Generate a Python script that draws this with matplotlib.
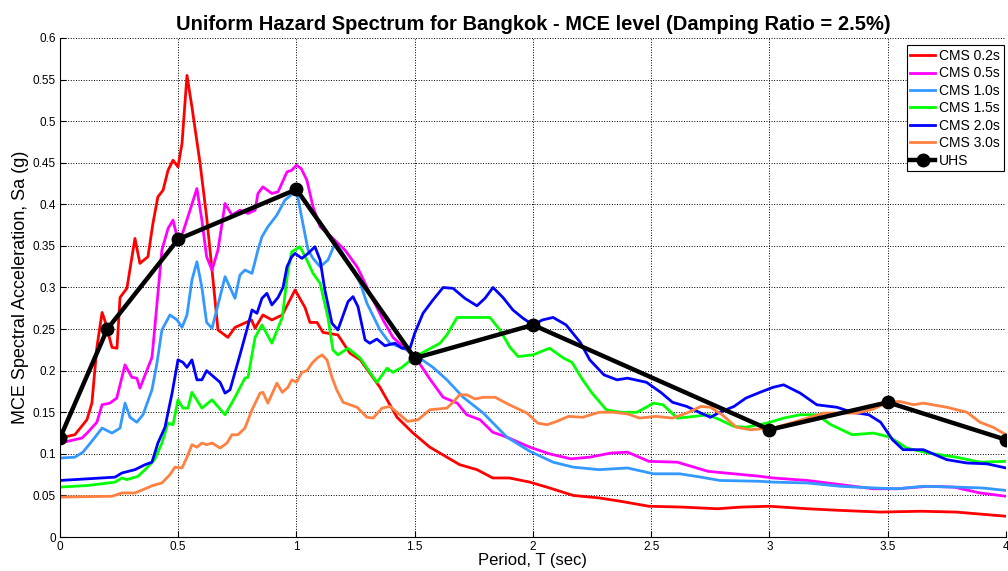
import matplotlib.pyplot as plt

plt.rcParams['font.family'] = ['Liberation Sans', 'DejaVu Sans']

# CMS 0.2s
T_cms02 = [0, 0.063, 0.114, 0.135, 0.156, 0.178, 0.19, 0.22, 0.241, 0.254, 0.283, 0.309, 0.317, 0.338, 0.372,
           0.393, 0.414, 0.436, 0.457, 0.478, 0.499, 0.516, 0.537, 0.558, 0.592, 0.62, 0.643, 0.668, 0.71, 0.74,
           0.81, 0.825, 0.858, 0.896, 0.94, 0.994, 1.036, 1.057, 1.087, 1.112, 1.175, 1.226, 1.27, 1.353, 1.425,
           1.493, 1.564, 1.636, 1.69, 1.763, 1.83, 1.90, 1.987, 2.07, 2.17, 2.28, 2.37, 2.49, 2.63, 2.78,
           2.88, 3.0, 3.16, 3.3, 3.47, 3.64, 3.79, 4.0]
Sa_cms02 = [0.119, 0.123, 0.141, 0.161, 0.228, 0.27, 0.26, 0.228, 0.227, 0.288, 0.299, 0.345, 0.359, 0.329, 0.337,
            0.377, 0.409, 0.417, 0.441, 0.453, 0.445, 0.473, 0.555, 0.517, 0.45, 0.385, 0.321, 0.249, 0.24, 0.252,
            0.261, 0.251, 0.267, 0.261, 0.267, 0.297, 0.276, 0.258, 0.258, 0.246, 0.243, 0.221, 0.213, 0.18, 0.144,
            0.125, 0.108, 0.096, 0.087, 0.081, 0.071, 0.071, 0.066, 0.059, 0.05, 0.047, 0.043, 0.037, 0.036, 0.034,
            0.036, 0.037, 0.034, 0.032, 0.03, 0.031, 0.030, 0.025]

# CMS 0.5s
T_cms05 = [0, 0.093, 0.118, 0.156, 0.178, 0.211, 0.24, 0.275, 0.304, 0.325, 0.338, 0.36, 0.389, 0.40, 0.431,
           0.457, 0.478, 0.495, 0.516, 0.541, 0.579, 0.60, 0.62, 0.643, 0.668, 0.698, 0.727, 0.761, 0.795, 0.825,
           0.837, 0.858, 0.896, 0.922, 0.96, 0.98, 1.0, 1.02, 1.044, 1.07, 1.10, 1.154, 1.205, 1.256, 1.277,
           1.31, 1.366, 1.408, 1.467, 1.51, 1.564, 1.62, 1.68, 1.72, 1.776, 1.83, 1.89, 1.987, 2.07, 2.16,
           2.24, 2.33, 2.40, 2.49, 2.61, 2.74, 2.85, 2.96, 3.015, 3.16, 3.30, 3.44, 3.54, 3.67, 3.78,
           3.89, 4.0]
Sa_cms05 = [0.113, 0.119, 0.126, 0.138, 0.159, 0.161, 0.167, 0.207, 0.192, 0.191, 0.179, 0.195, 0.216, 0.249, 0.345,
            0.371, 0.381, 0.361, 0.363, 0.385, 0.419, 0.381, 0.337, 0.321, 0.345, 0.401, 0.387, 0.393, 0.389, 0.393,
            0.413, 0.421, 0.413, 0.415, 0.439, 0.441, 0.447, 0.443, 0.429, 0.397, 0.373, 0.359, 0.345, 0.325, 0.313,
            0.293, 0.261, 0.24, 0.225, 0.213, 0.19, 0.168, 0.161, 0.147, 0.141, 0.126, 0.12, 0.108, 0.1, 0.094,
            0.096, 0.101, 0.102, 0.091, 0.09, 0.079, 0.076, 0.073, 0.071, 0.068, 0.063, 0.058, 0.058, 0.061, 0.06,
            0.053, 0.049]

# CMS 1.0s
T_cms10 = [0, 0.063, 0.097, 0.14, 0.178, 0.22, 0.254, 0.275, 0.296, 0.325, 0.351, 0.389, 0.41, 0.431, 0.465,
           0.495, 0.516, 0.537, 0.558, 0.579, 0.60, 0.62, 0.643, 0.668, 0.698, 0.719, 0.74, 0.761, 0.782, 0.812,
           0.837, 0.854, 0.879, 0.917, 0.951, 0.985, 1.0, 1.027, 1.049, 1.07, 1.10, 1.133, 1.163, 1.192, 1.226,
           1.27, 1.298, 1.353, 1.395, 1.467, 1.522, 1.577, 1.636, 1.705, 1.79, 1.89, 1.987, 2.085, 2.17, 2.28,
           2.40, 2.51, 2.62, 2.71, 2.79, 2.96, 3.015, 3.16, 3.3, 3.44, 3.54, 3.65, 3.79, 3.90, 4.0]
Sa_cms10 = [0.095, 0.096, 0.102, 0.117, 0.131, 0.125, 0.131, 0.161, 0.144, 0.138, 0.147, 0.177, 0.209, 0.249, 0.267,
            0.261, 0.252, 0.267, 0.309, 0.331, 0.3, 0.258, 0.251, 0.279, 0.313, 0.3, 0.287, 0.315, 0.321, 0.317,
            0.345, 0.361, 0.373, 0.387, 0.405, 0.413, 0.417, 0.377, 0.345, 0.335, 0.325, 0.333, 0.353, 0.343, 0.327,
            0.305, 0.281, 0.249, 0.233, 0.225, 0.215, 0.204, 0.189, 0.168, 0.149, 0.12, 0.103, 0.09, 0.084, 0.081,
            0.083, 0.076, 0.076, 0.072, 0.068, 0.067, 0.066, 0.065, 0.061, 0.059, 0.058, 0.061, 0.06, 0.059, 0.056]

# CMS 1.5s
T_cms15 = [0, 0.118, 0.233, 0.262, 0.283, 0.33, 0.36, 0.40, 0.431, 0.457, 0.478, 0.499, 0.52, 0.541, 0.558,
           0.60, 0.643, 0.698, 0.74, 0.782, 0.795, 0.825, 0.854, 0.896, 0.94, 0.964, 0.98, 1.015, 1.044, 1.07,
           1.10, 1.133, 1.154, 1.175, 1.218, 1.27, 1.34, 1.383, 1.408, 1.446, 1.493, 1.535, 1.607, 1.636, 1.679,
           1.734, 1.818, 1.86, 1.903, 1.937, 2.0, 2.07, 2.13, 2.165, 2.21, 2.25, 2.31, 2.37, 2.44, 2.51,
           2.55, 2.61, 2.65, 2.74, 2.79, 2.85, 2.90, 2.99, 3.06, 3.13, 3.2, 3.26, 3.35, 3.44, 3.51,
           3.58, 3.67, 3.79, 3.89, 4.0]
Sa_cms15 = [0.06, 0.062, 0.066, 0.071, 0.069, 0.073, 0.081, 0.093, 0.113, 0.137, 0.135, 0.165, 0.155, 0.155, 0.174,
            0.155, 0.165, 0.147, 0.168, 0.191, 0.192, 0.24, 0.255, 0.233, 0.264, 0.321, 0.343, 0.349, 0.333, 0.317,
            0.305, 0.264, 0.225, 0.219, 0.227, 0.215, 0.186, 0.203, 0.198, 0.204, 0.215, 0.222, 0.233, 0.243, 0.264,
            0.264, 0.264, 0.249, 0.228, 0.217, 0.219, 0.227, 0.215, 0.21, 0.189, 0.173, 0.153, 0.15, 0.15, 0.161,
            0.159, 0.143, 0.144, 0.147, 0.141, 0.133, 0.132, 0.137, 0.143, 0.147, 0.147, 0.135, 0.123, 0.125, 0.12,
            0.107, 0.101, 0.096, 0.09, 0.091]

# CMS 2.0s
T_cms20 = [0, 0.118, 0.233, 0.262, 0.317, 0.36, 0.389, 0.414, 0.444, 0.474, 0.499, 0.52, 0.537, 0.558, 0.579,
           0.60, 0.62, 0.677, 0.698, 0.719, 0.761, 0.79, 0.812, 0.833, 0.854, 0.875, 0.896, 0.922, 0.943, 0.96,
           0.98, 0.994, 1.023, 1.049, 1.078, 1.10, 1.12, 1.15, 1.175, 1.218, 1.239, 1.26, 1.29, 1.31, 1.34,
           1.374, 1.416, 1.446, 1.48, 1.50, 1.535, 1.577, 1.62, 1.662, 1.712, 1.763, 1.797, 1.831, 1.873, 1.915,
           1.958, 2.0, 2.04, 2.085, 2.14, 2.2, 2.24, 2.30, 2.355, 2.40, 2.48, 2.54, 2.59, 2.65, 2.71,
           2.75, 2.79, 2.85, 2.90, 2.96, 3.015, 3.06, 3.13, 3.2, 3.285, 3.35, 3.42, 3.47, 3.52, 3.565,
           3.65, 3.75, 3.835, 3.92, 4.0]
Sa_cms20 = [0.068, 0.07, 0.072, 0.077, 0.081, 0.087, 0.09, 0.113, 0.132, 0.173, 0.213, 0.21, 0.204, 0.213, 0.189,
            0.189, 0.2, 0.186, 0.173, 0.177, 0.219, 0.249, 0.273, 0.269, 0.287, 0.293, 0.279, 0.288, 0.3, 0.325,
            0.337, 0.341, 0.335, 0.341, 0.349, 0.333, 0.297, 0.257, 0.249, 0.283, 0.289, 0.277, 0.237, 0.233, 0.238,
            0.23, 0.233, 0.227, 0.227, 0.245, 0.269, 0.285, 0.3, 0.299, 0.287, 0.278, 0.287, 0.3, 0.288, 0.273,
            0.263, 0.255, 0.261, 0.264, 0.255, 0.234, 0.213, 0.195, 0.189, 0.191, 0.186, 0.174, 0.162, 0.157, 0.149,
            0.144, 0.15, 0.157, 0.167, 0.174, 0.18, 0.183, 0.173, 0.159, 0.156, 0.15, 0.147, 0.138, 0.117, 0.105,
            0.105, 0.093, 0.089, 0.088, 0.083]

# CMS 3.0s
T_cms30 = [0, 0.22, 0.262, 0.317, 0.36, 0.393, 0.431, 0.465, 0.486, 0.516, 0.537, 0.558, 0.579, 0.60, 0.62,
           0.643, 0.677, 0.706, 0.727, 0.753, 0.782, 0.812, 0.846, 0.858, 0.879, 0.917, 0.94, 0.964, 0.98, 1.0,
           1.023, 1.044, 1.066, 1.087, 1.108, 1.129, 1.15, 1.17, 1.197, 1.256, 1.298, 1.324, 1.362, 1.395, 1.429,
           1.47, 1.514, 1.564, 1.636, 1.662, 1.69, 1.72, 1.755, 1.79, 1.84, 1.90, 1.975, 2.02, 2.06, 2.10,
           2.15, 2.21, 2.28, 2.34, 2.40, 2.45, 2.52, 2.59, 2.65, 2.71, 2.75, 2.80, 2.86, 2.92, 2.96,
           3.015, 3.09, 3.16, 3.23, 3.3, 3.37, 3.44, 3.50, 3.55, 3.61, 3.65, 3.75, 3.835, 3.89, 3.945, 4.0]
Sa_cms30 = [0.048, 0.049, 0.053, 0.053, 0.058, 0.062, 0.065, 0.075, 0.084, 0.083, 0.096, 0.111, 0.108, 0.113, 0.111,
            0.113, 0.107, 0.113, 0.123, 0.123, 0.131, 0.153, 0.173, 0.174, 0.161, 0.185, 0.174, 0.18, 0.189, 0.186,
            0.198, 0.2, 0.209, 0.215, 0.219, 0.213, 0.192, 0.177, 0.162, 0.156, 0.144, 0.143, 0.155, 0.157, 0.149,
            0.139, 0.141, 0.153, 0.155, 0.162, 0.171, 0.171, 0.166, 0.168, 0.168, 0.159, 0.149, 0.137, 0.135, 0.139,
            0.145, 0.144, 0.15, 0.15, 0.148, 0.143, 0.145, 0.143, 0.149, 0.157, 0.156, 0.147, 0.132, 0.129, 0.13,
            0.131, 0.137, 0.143, 0.149, 0.149, 0.149, 0.154, 0.162, 0.163, 0.159, 0.161, 0.156, 0.15, 0.138, 0.132,
            0.123]

# UHS
T_uhs = [0, 0.2, 0.5, 1.0, 1.5, 2.0, 3.0, 3.5, 4.0]
Sa_uhs = [0.119, 0.25, 0.358, 0.418, 0.215, 0.255, 0.129, 0.162, 0.117]

cms = [
    ("CMS 0.2s", T_cms02, Sa_cms02, "#ff0000"),
    ("CMS 0.5s", T_cms05, Sa_cms05, "#ff00ff"),
    ("CMS 1.0s", T_cms10, Sa_cms10, "#3399ff"),
    ("CMS 1.5s", T_cms15, Sa_cms15, "#00ff00"),
    ("CMS 2.0s", T_cms20, Sa_cms20, "#0000ff"),
    ("CMS 3.0s", T_cms30, Sa_cms30, "#ff8040"),
]

fig = plt.figure(figsize=(10.08, 5.71), dpi=100)
ax = fig.add_axes([0.0595, 0.0595, 0.9385, 0.874])

for label, T, Sa, c in cms:
    ax.plot(T, Sa, color=c, lw=2.0, label=label)
ax.plot(T_uhs, Sa_uhs, color='black', lw=3.2, marker='o', markersize=9, label='UHS')

ax.set_xlim(0, 4)
ax.set_ylim(0, 0.6)
xt = [0, 0.5, 1, 1.5, 2, 2.5, 3, 3.5, 4]
ax.set_xticks(xt)
ax.set_xticklabels(["0", "0.5", "1", "1.5", "2", "2.5", "3", "3.5", "4"])
yt = [i * 0.05 for i in range(13)]
ax.set_yticks(yt)
ax.set_yticklabels(["0", "0.05", "0.1", "0.15", "0.2", "0.25", "0.3", "0.35", "0.4",
                    "0.45", "0.5", "0.55", "0.6"])
ax.tick_params(direction='in', labelsize=8.5, length=4, width=0.8, pad=3)
ax.grid(True, color='black', linestyle=':', linewidth=0.7)
ax.spines['top'].set_visible(False)
ax.spines['right'].set_visible(False)

ax.set_title("Uniform Hazard Spectrum for Bangkok - MCE level (Damping Ratio = 2.5%)",
             fontsize=14.5, fontweight='bold', pad=6)
ax.set_xlabel("Period, T (sec)", fontsize=12, labelpad=0)
ax.set_ylabel("MCE Spectral Acceleration, Sa (g)", fontsize=13, labelpad=3)

leg = ax.legend(loc='upper right', bbox_to_anchor=(0.9975, 0.985), fontsize=10, fancybox=False,
                framealpha=1, edgecolor='black', handlelength=1.8, handletextpad=0.3,
                borderpad=0.25, labelspacing=0.25, borderaxespad=0)
leg.get_frame().set_linewidth(0.8)

fig.savefig("out.png", dpi=100)
